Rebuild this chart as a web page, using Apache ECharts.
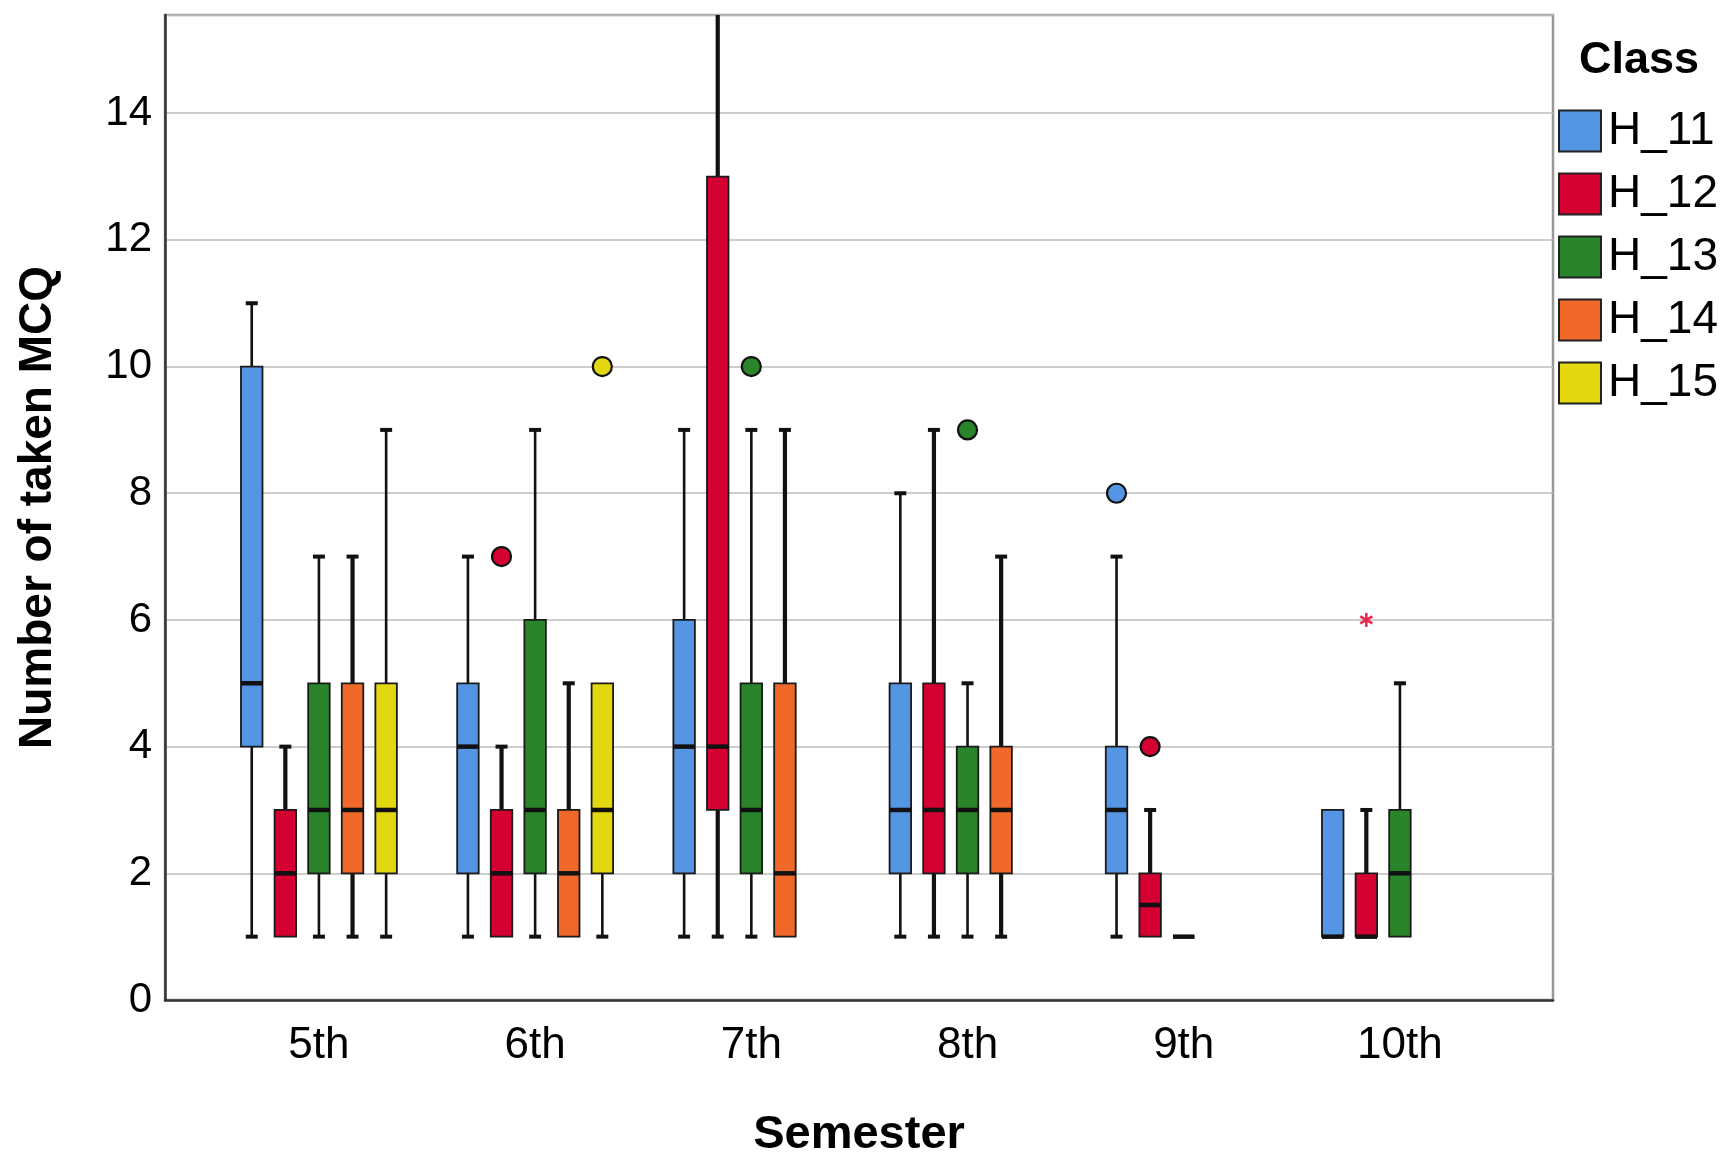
<!DOCTYPE html>
<html>
<head>
<meta charset="utf-8">
<script src="https://cdn.jsdelivr.net/npm/echarts@6/dist/echarts.min.js"></script>
<style>
  html, body { margin: 0; padding: 0; background: #fff; }
  #chart { width: 1726px; height: 1152px; }
</style>
</head>
<body>
<div id="chart"></div>
<script>
const semesters = ['5th', '6th', '7th', '8th', '9th', '10th'];
const classes = ['H_11', 'H_12', 'H_13', 'H_14', 'H_15'];
const colors = ['#5596e4', '#d50032', '#2a842a', '#f1692a', '#e3d80f'];
const yTicks = [0, 2, 4, 6, 8, 10, 12, 14];

// [semester index, min, q1, median, q3, max]
const boxH11 = [[0, 1, 4, 5, 10, 11], [1, 1, 2, 4, 5, 7], [2, 1, 2, 4, 6, 9], [3, 1, 2, 3, 5, 8], [4, 1, 2, 3, 4, 7], [5, 1, 1, 1, 3, 3]];
const boxH12 = [[0, 1, 1, 2, 3, 4], [1, 1, 1, 2, 3, 4], [2, 1, 3, 4, 13, 16], [3, 1, 2, 3, 5, 9], [4, 1, 1, 1.5, 2, 3], [5, 1, 1, 1, 2, 3]];
const boxH13 = [[0, 1, 2, 3, 5, 7], [1, 1, 2, 3, 6, 9], [2, 1, 2, 3, 5, 9], [3, 1, 2, 3, 4, 5], [4, 1, 1, 1, 1, 1], [5, 1, 1, 2, 3, 5]];
const boxH14 = [[0, 1, 2, 3, 5, 7], [1, 1, 1, 2, 3, 5], [2, 1, 1, 2, 5, 9], [3, 1, 2, 3, 4, 7]];
const boxH15 = [[0, 1, 2, 3, 5, 9], [1, 1, 2, 3, 5, 5]];

// outliers: [semester index, value, kind] kind 0 = circle, 1 = extreme (star)
const outH11 = [[4, 8, 0]];
const outH12 = [[1, 7, 0], [4, 4, 0], [5, 6, 1]];
const outH13 = [[2, 10, 0], [3, 9, 0]];
const outH14 = [];
const outH15 = [[1, 10, 0]];

const boxes = [boxH11, boxH12, boxH13, boxH14, boxH15];
const outliers = [outH11, outH12, outH13, outH14, outH15];

const SLOT = 33.6;   // px between class slots
const BOX_W = 21.5;
const CAP_W = 12;
const whiskerW = [2.6, 4.2, 2.6, 4.2, 2.6];
const FONT = '"Liberation Sans", Arial, sans-serif';

function ln(x1, y1, x2, y2, w, c) {
  return { type: 'line', shape: { x1, y1, x2, y2 }, style: { stroke: c || '#111', lineWidth: w } };
}

function boxRenderer(k) {
  return function (params, api) {
    const x = api.value(0);
    const cx = api.coord([x, 0])[0] + (k - 2) * SLOT;
    const y = v => api.coord([x, v])[1];
    const mn = api.value(1), q1 = api.value(2), md = api.value(3), q3 = api.value(4), mx = api.value(5);
    const ch = [];
    if (mx > q3) {
      ch.push(ln(cx, y(q3), cx, y(mx), whiskerW[k]));
      ch.push(ln(cx - CAP_W / 2, y(mx), cx + CAP_W / 2, y(mx), 4));
    }
    if (mn < q1) {
      ch.push(ln(cx, y(q1), cx, y(mn), whiskerW[k]));
      ch.push(ln(cx - CAP_W / 2, y(mn), cx + CAP_W / 2, y(mn), 4));
    }
    ch.push({
      type: 'rect',
      shape: { x: cx - BOX_W / 2, y: y(q3), width: BOX_W, height: y(q1) - y(q3) },
      style: { fill: colors[k], stroke: '#1a1a1a', lineWidth: 1.8 }
    });
    ch.push(ln(cx - BOX_W / 2, y(md), cx + BOX_W / 2, y(md), 4.5));
    return { type: 'group', children: ch };
  };
}

function outlierRenderer(k) {
  return function (params, api) {
    const x = api.value(0);
    const p = api.coord([x, api.value(1)]);
    const cx = p[0] + (k - 2) * SLOT, cy = p[1];
    if (api.value(2) === 1) {
      const r = 7, c = '#e8274f';
      const ch = [];
      for (let a = 0; a < 3; a++) {
        const t = Math.PI / 2 + a * Math.PI / 3;
        ch.push(ln(cx - r * Math.cos(t), cy - r * Math.sin(t), cx + r * Math.cos(t), cy + r * Math.sin(t), 2.5, c));
      }
      return { type: 'group', children: ch };
    }
    return {
      type: 'circle',
      shape: { cx, cy, r: 9.5 },
      style: { fill: colors[k], stroke: '#111', lineWidth: 2.2 }
    };
  };
}

const series = [];
classes.forEach((name, k) => {
  series.push({
    name, type: 'custom', clip: true,
    itemStyle: { color: colors[k] },
    renderItem: boxRenderer(k),
    encode: { x: 0, y: [1, 2, 3, 4, 5] },
    data: boxes[k]
  });
  series.push({
    name, type: 'custom', clip: true,
    itemStyle: { color: colors[k] },
    renderItem: outlierRenderer(k),
    encode: { x: 0, y: 1 },
    data: outliers[k]
  });
});

const chart = echarts.init(document.getElementById('chart'));
chart.setOption({
  animation: false,
  backgroundColor: '#fff',
  title: {
    text: 'Class', left: 1574, top: 33,
    textStyle: { fontFamily: FONT, fontSize: 45, fontWeight: 'bold', color: '#000' }
  },
  legend: {
    data: classes, orient: 'vertical', left: 1558, top: 108, padding: 0,
    icon: 'rect', itemWidth: 42, itemHeight: 41, itemGap: 17,
    itemStyle: { borderColor: '#222', borderWidth: 2 },
    textStyle: { fontFamily: FONT, fontSize: 46, color: '#000', padding: [6, 0, 0, 2] }
  },
  grid: {
    left: 165, top: 15, right: 173, bottom: 152,
    containLabel: false, outerBoundsMode: 'none',
    show: true, borderColor: '#999', borderWidth: 2.5
  },
  xAxis: {
    type: 'value', min: -0.712, max: 5.708, minInterval: 1, maxInterval: 1,
    name: 'Semester', nameLocation: 'middle', nameGap: 112,
    nameTextStyle: { fontFamily: FONT, fontSize: 47, fontWeight: 'bold', color: '#000' },
    axisLine: { onZero: false, lineStyle: { color: '#333', width: 2.5 } },
    axisTick: { show: false },
    splitLine: { show: false },
    axisLabel: {
      fontFamily: FONT, fontSize: 44, color: '#000', margin: 24,
      showMinLabel: false, showMaxLabel: false,
      formatter: v => (Number.isInteger(v) && semesters[v]) ? semesters[v] : ''
    }
  },
  yAxis: {
    type: 'value', min: 0, max: 15.55, interval: 2,
    name: 'Number of taken MCQ', nameLocation: 'middle', nameGap: 104,
    nameTextStyle: { fontFamily: FONT, fontSize: 46, fontWeight: 'bold', color: '#000' },
    axisLine: { onZero: false, lineStyle: { color: '#333', width: 2.5 } },
    axisTick: { show: false },
    splitLine: { lineStyle: { color: '#bcbcbc', width: 1.5 } },
    axisLabel: {
      fontFamily: FONT, fontSize: 42, color: '#000', margin: 13, showMaxLabel: false,
      formatter: v => yTicks.includes(v) ? String(v) : ''
    }
  },
  series
});
</script>
</body>
</html>
